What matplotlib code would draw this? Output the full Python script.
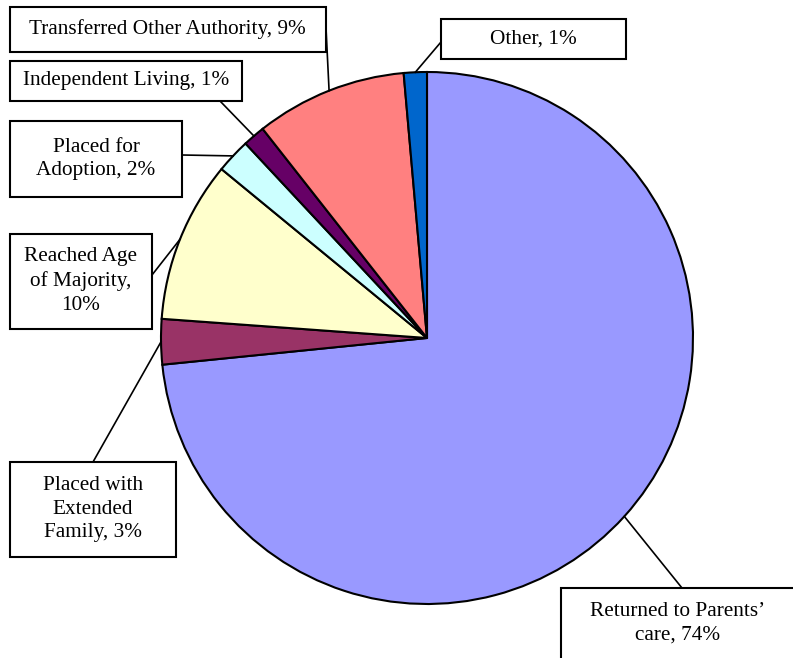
import numpy as np
import matplotlib
matplotlib.use('Agg')
import matplotlib.pyplot as plt
from matplotlib.patches import Rectangle

categories = ['Returned to Parents’ care', 'Placed with Extended Family',
              'Reached Age of Majority', 'Placed for Adoption',
              'Independent Living', 'Transferred Other Authority', 'Other']
shares = [73.4, 2.75, 9.8, 2.1, 1.35, 9.2, 1.4]
pct_shown = [74, 3, 10, 2, 1, 9, 1]
label_fmt = ['Returned to Parents’\ncare, {}%', 'Placed with\nExtended\nFamily, {}%',
             'Reached Age\nof Majority,\n{}%', 'Placed for\nAdoption, {}%',
             'Independent Living, {}%', 'Transferred Other Authority, {}%',
             'Other, {}%']
colors = ['#9999FF', '#993366', '#FFFFCC', '#CCFFFF', '#660066', '#FF8080', '#0066CC']

W, H = 793, 658
# label boxes, pixel coords from top-left: (x0, y0, x1, y1)
boxes = [(561, 588, 800, 670), (10, 462, 176, 557), (10, 234, 152, 329),
         (10, 121, 182, 197), (10, 61, 242, 101), (10, 7, 326, 52), (441, 19, 626, 59)]
# where each leader line leaves its box
anchors = [(682, 588), (93, 462), (152, 275), (182, 155), (220, 101), (326, 28), (441, 42)]
# text centres (the bottom-right box is cut off by the image edge)
text_pos = [(678, 623), (93, 509), (81, 281), (96, 159), (126, 81), (167, 29), (533, 39)]

plt.rcParams['font.family'] = ['Liberation Serif', 'DejaVu Serif']

fig = plt.figure(figsize=(W / 100, H / 100), dpi=100)
ax = fig.add_axes([0, 0, 1, 1])

cx, cy, r = 427, H - 338, 266
wedges, _ = ax.pie(shares, colors=colors, startangle=90, counterclock=False,
                   center=(cx, cy), radius=r, frame=True,
                   wedgeprops=dict(edgecolor='black', linewidth=1.5))
ax.set_xlim(0, W)
ax.set_ylim(0, H)
ax.set_aspect('equal')
ax.axis('off')

for w, fmt, pct, box, anc, tp in zip(wedges, label_fmt, pct_shown, boxes, anchors, text_pos):
    x0, y0, x1, y1 = box
    ax.add_patch(Rectangle((x0, H - y1), x1 - x0, y1 - y0, facecolor='white',
                           edgecolor='black', linewidth=1.5, zorder=3))
    ax.text(tp[0], H - tp[1], fmt.format(pct), ha='center', va='center',
            fontsize=15.3, linespacing=1.35, zorder=4)
    mid = np.deg2rad((w.theta1 + w.theta2) / 2)
    px, py = cx + r * np.cos(mid), cy + r * np.sin(mid)
    ax.plot([anc[0], px], [H - anc[1], py], color='black', lw=1.2, zorder=2)

fig.savefig('out.png', dpi=100)
